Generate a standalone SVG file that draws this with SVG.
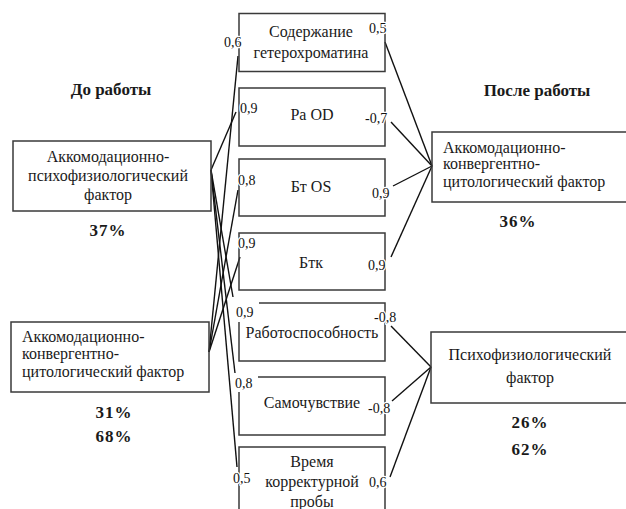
<svg xmlns="http://www.w3.org/2000/svg" width="626" height="509" viewBox="0 0 626 509" font-family="'Liberation Serif', 'DejaVu Serif', serif">
<style>
.t{font-size:16px;fill:#1a1a1a}
.c{text-anchor:middle}
.b{font-weight:bold;font-size:17px}
.lab{font-size:14px;fill:#111;paint-order:stroke;stroke:#fff;stroke-width:2.5px;stroke-linejoin:round}
.box{fill:none;stroke:#3a3a3a;stroke-width:1.5}
.con{fill:none;stroke:#111;stroke-width:1.4}
</style>
<rect width="626" height="509" fill="#fff"/>

<g id="headers">
<text class="t c b" x="111" y="95">До работы</text>
<text class="t c b" x="537" y="96">После работы</text>
</g>

<g id="connectors">
<line class="con" x1="209" y1="352" x2="238" y2="56"/>
<line class="con" x1="211" y1="170" x2="236" y2="112"/>
<line class="con" x1="209" y1="352" x2="238" y2="190"/>
<line class="con" x1="209" y1="352" x2="240" y2="257"/>
<line class="con" x1="211" y1="170" x2="233" y2="297"/>
<line class="con" x1="211" y1="170" x2="235" y2="373"/>
<line class="con" x1="211" y1="170" x2="237" y2="467"/>
<line class="con" x1="385" y1="42" x2="432" y2="166"/>
<line class="con" x1="391" y1="122" x2="432" y2="166"/>
<line class="con" x1="393" y1="186" x2="432" y2="166"/>
<line class="con" x1="391" y1="257" x2="432" y2="166"/>
<line class="con" x1="391" y1="326" x2="431" y2="367"/>
<line class="con" x1="392" y1="401" x2="431" y2="367"/>
<line class="con" x1="390" y1="477" x2="431" y2="367"/>
</g>

<g id="left1">
<rect class="box" x="13" y="141" width="198" height="70"/>
<text class="t c" x="108" y="162">Аккомодационно-</text>
<text class="t c" x="108" y="181">психофизиологический</text>
<text class="t c" x="108" y="200">фактор</text>
<text class="t c b" x="108" y="236" letter-spacing="1">37%</text>
</g>

<g id="left2">
<rect class="box" x="11" y="322" width="198" height="70"/>
<text class="t" x="22" y="342">Аккомодационно-</text>
<text class="t" x="22" y="359">конвергентно-</text>
<text class="t" x="22" y="377">цитологический фактор</text>
<text class="t c b" x="114" y="418" letter-spacing="1">31%</text>
<text class="t c b" x="114" y="442" letter-spacing="1">68%</text>
</g>

<g id="right1">
<rect class="box" x="432" y="132" width="200" height="70"/>
<text class="t" x="443" y="153">Аккомодационно-</text>
<text class="t" x="443" y="169">конвергентно-</text>
<text class="t" x="443" y="187">цитологический фактор</text>
<text class="t c b" x="518" y="227" letter-spacing="1">36%</text>
</g>

<g id="right2">
<rect class="box" x="431" y="332" width="200" height="71"/>
<text class="t c" x="530" y="360">Психофизиологический</text>
<text class="t c" x="530" y="383">фактор</text>
<text class="t c b" x="530" y="428" letter-spacing="1">26%</text>
<text class="t c b" x="530" y="455" letter-spacing="1">62%</text>
</g>

<g id="m1">
<rect class="box" x="239" y="13.5" width="146" height="58"/>
<text class="t c" x="311" y="37">Содержание</text>
<text class="t c" x="311" y="58">гетерохроматина</text>
</g>
<g id="m2">
<rect class="box" x="239" y="88" width="146" height="58"/>
<text class="t c" x="312" y="120">Ра OD</text>
</g>
<g id="m3">
<rect class="box" x="239" y="159" width="146" height="57"/>
<text class="t c" x="311" y="192">Бт OS</text>
</g>
<g id="m4">
<rect class="box" x="239" y="233" width="146" height="57"/>
<text class="t c" x="311" y="268">Бтк</text>
</g>
<g id="m5">
<path class="box" d="M259,303 H385 V361 H239 V322"/>
<text class="t c" x="312" y="338">Работоспособность</text>
</g>
<g id="m6">
<path class="box" d="M258,377 H385 V435 H239 V392"/>
<text class="t c" x="312" y="408">Самочувствие</text>
</g>
<g id="m7">
<path class="box" d="M239,512 V447 H385 V512"/>
<text class="t c" x="312" y="467">Время</text>
<text class="t c" x="312" y="487">корректурной</text>
<text class="t c" x="312" y="507">пробы</text>
</g>

<g id="labels">
<text class="lab" x="224" y="47">0,6</text>
<text class="lab" x="369" y="33">0,5</text>
<text class="lab" x="240" y="113">0,9</text>
<text class="lab" x="365" y="123">-0,7</text>
<text class="lab" x="238" y="185">0,8</text>
<text class="lab" x="372" y="198">0,9</text>
<text class="lab" x="238" y="248">0,9</text>
<text class="lab" x="368" y="270">0,9</text>
<text class="lab" x="236" y="317">0,9</text>
<text class="lab" x="374" y="322">-0,8</text>
<text class="lab" x="235" y="388">0,8</text>
<text class="lab" x="368" y="413">-0,8</text>
<text class="lab" x="233" y="483">0,5</text>
<text class="lab" x="369" y="487">0,6</text>
</g>
</svg>
